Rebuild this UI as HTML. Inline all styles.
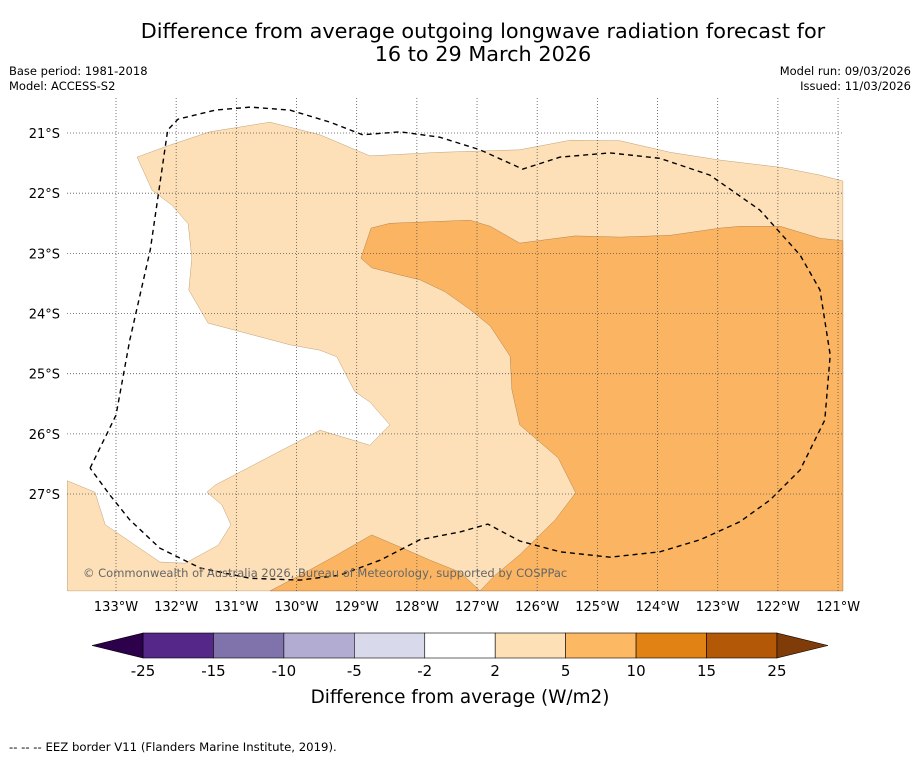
<!DOCTYPE html>
<html><head><meta charset="utf-8"><style>
body{margin:0;background:#fff;font-family:"Liberation Sans","DejaVu Sans",sans-serif;}
svg{display:block}
</style></head><body>
<svg id="c" width="919" height="758" viewBox="0 0 919 758" font-family="DejaVu Sans, Liberation Sans, sans-serif">
<text x="483" y="38" text-anchor="middle" font-size="20.8">Difference from average outgoing longwave radiation forecast for</text>
<text x="483" y="61" text-anchor="middle" font-size="20.8">16 to 29 March 2026</text>
<text x="9" y="75" font-size="11.5">Base period: 1981-2018</text>
<text x="9" y="90" font-size="11.5">Model: ACCESS-S2</text>
<text x="911" y="75" font-size="11.5" text-anchor="end">Model run: 09/03/2026</text>
<text x="911" y="90" font-size="11.5" text-anchor="end">Issued: 11/03/2026</text>
<g id="map"></g>
<g id="grid"></g>
<g id="eez"></g>
<text x="83" y="577" font-size="11.5" fill="#666">© Commonwealth of Australia 2026, Bureau of Meteorology, supported by COSPPac</text>
<g id="cbar"></g>
<text x="460" y="703" text-anchor="middle" font-size="18.4">Difference from average (W/m2)</text>
<text x="9" y="751" font-size="11.7">--  --  -- EEZ border V11 (Flanders Marine Institute, 2019).</text>
</svg>
<script>
const lonTicks=[133,132,131,130,129,128,127,126,125,124,123,122,121];
const latTicks=[21,22,23,24,25,26,27];
const levels=[-25,-15,-10,-5,-2,2,5,10,15,25];
const levelColors=["#542788","#8073ac","#b2abd2","#d8daeb","#ffffff","#fee0b6","#fdb863","#e08214","#b35806"];
const underColor="#2d004b", overColor="#7f3b08";
// polygons as [degW, degS] pairs
const lightRegion=[[133.81,26.78],[133.35,26.97],[133.18,27.51],[132.27,28.13],[131.85,28.15],[131.30,27.85],[131.09,27.51],[131.24,27.18],[131.49,26.97],[131.35,26.85],[129.61,25.94],[128.78,26.19],[128.45,25.85],[128.78,25.47],[129.03,25.30],[129.33,24.72],[129.61,24.61],[130.11,24.52],[131.47,24.16],[131.79,23.61],[131.74,23.08],[131.80,22.51],[132.07,22.20],[132.40,21.95],[132.65,21.40],[132.10,21.20],[131.44,20.98],[130.44,20.82],[129.61,21.03],[128.78,21.38],[127.62,21.32],[126.29,21.28],[125.45,21.12],[124.62,21.13],[123.79,21.32],[122.96,21.45],[121.96,21.57],[121.30,21.70],[120.92,21.80],[120.92,28.61],[133.81,28.61]];
const orangeRegion=[[128.93,23.08],[128.76,22.58],[128.45,22.50],[127.12,22.45],[126.78,22.55],[126.29,22.83],[125.37,22.71],[124.62,22.73],[123.79,22.70],[122.96,22.58],[122.63,22.55],[121.96,22.55],[121.30,22.75],[120.92,22.79],[120.92,28.61],[126.95,28.61],[126.70,28.35],[126.29,28.01],[125.70,27.43],[125.36,26.98],[125.65,26.40],[126.29,25.85],[126.42,25.27],[126.45,24.71],[126.78,24.21],[127.12,23.93],[127.53,23.64],[127.95,23.44],[128.28,23.36],[128.75,23.24]];
const orangeSouth=[[130.44,28.61],[129.94,28.35],[129.36,28.03],[128.75,27.68],[128.28,27.88],[127.78,28.10],[127.28,28.30],[126.95,28.61]];
const eezLine=[[133.43,26.57],[133,25.69],[132.77,24.44],[132.43,22.94],[132.14,20.95],[131.97,20.77],[131.35,20.62],[130.77,20.57],[130.11,20.62],[129.44,20.82],[128.90,21.03],[128.28,20.98],[127.62,21.07],[126.95,21.28],[126.24,21.60],[125.62,21.40],[124.79,21.33],[123.96,21.42],[123.13,21.70],[122.30,22.28],[121.63,23.03],[121.30,23.61],[121.13,24.69],[121.22,25.77],[121.63,26.60],[122.13,27.10],[122.63,27.46],[123.29,27.76],[123.96,27.96],[124.79,28.05],[125.62,27.96],[126.29,27.78],[126.82,27.50],[127.28,27.63],[127.95,27.76],[128.61,28.10],[129.28,28.35],[129.94,28.43],[130.77,28.40],[131.60,28.23],[132.27,27.90],[132.77,27.43],[133.10,27.02],[133.43,26.57]];
const NS="http://www.w3.org/2000/svg";
const X=w=>116+(133-w)*60.17, Y=s=>133+(s-21)*60.17;
const CBX=v=>143+levels.indexOf(v)*70.44;
function mk(t,a,p){const e=document.createElementNS(NS,t);for(const k in a)e.setAttribute(k,a[k]);p.appendChild(e);return e;}
const map=document.getElementById('map'),grid=document.getElementById('grid'),eez=document.getElementById('eez'),cb=document.getElementById('cbar');
const pts=a=>a.map(p=>X(p[0]).toFixed(1)+","+Y(p[1]).toFixed(1)).join(" ");
let r=mk('rect',{x:67,y:98,width:776,height:493,fill:'#fff'},map);

let p=mk('polygon',{points:pts(lightRegion),fill:'#fde0b7',stroke:'#b08a5a','stroke-width':0.4},map);

p=mk('polygon',{points:pts(orangeRegion),fill:'#fbb562',stroke:'#a07040','stroke-width':0.4},map);

p=mk('polygon',{points:pts(orangeSouth),fill:'#fbb562',stroke:'#a07040','stroke-width':0.4},map);

lonTicks.forEach(w=>{const x=X(w);
 let l=mk('line',{x1:x,x2:x,y1:98,y2:591,stroke:'#555','stroke-width':0.8,'stroke-dasharray':'1,2'},grid);
 
 let t=mk('text',{x:x,y:611,'text-anchor':'middle','font-size':13},grid);t.textContent=w+"°W";
 });
latTicks.forEach(s=>{const y=Y(s);
 let l=mk('line',{x1:67,x2:843,y1:y,y2:y,stroke:'#555','stroke-width':0.8,'stroke-dasharray':'1,2'},grid);
 
 let t=mk('text',{x:60,y:y+5,'text-anchor':'end','font-size':13},grid);t.textContent=s+"°S";
 });
let e=mk('polyline',{points:pts(eezLine),fill:'none',stroke:'#000','stroke-width':1.4,'stroke-dasharray':'5,4'},eez);

for(let i=0;i<levelColors.length;i++){
 let b=mk('rect',{x:CBX(levels[i]),y:633,width:CBX(levels[i+1])-CBX(levels[i]),height:25,fill:levelColors[i],stroke:'#000','stroke-width':0.6},cb);
 }
const x0=CBX(levels[0]),x1=CBX(levels[levels.length-1]);
let tr=mk('polygon',{points:`${x0},633 ${x0-51},645.5 ${x0},658`,fill:underColor,stroke:'#000','stroke-width':0.6},cb);

tr=mk('polygon',{points:`${x1},633 ${x1+51},645.5 ${x1},658`,fill:overColor,stroke:'#000','stroke-width':0.6},cb);

levels.forEach(v=>{let t=mk('text',{x:CBX(v),y:676,'text-anchor':'middle','font-size':15},cb);t.textContent=v;
 });
</script>
</body></html>
